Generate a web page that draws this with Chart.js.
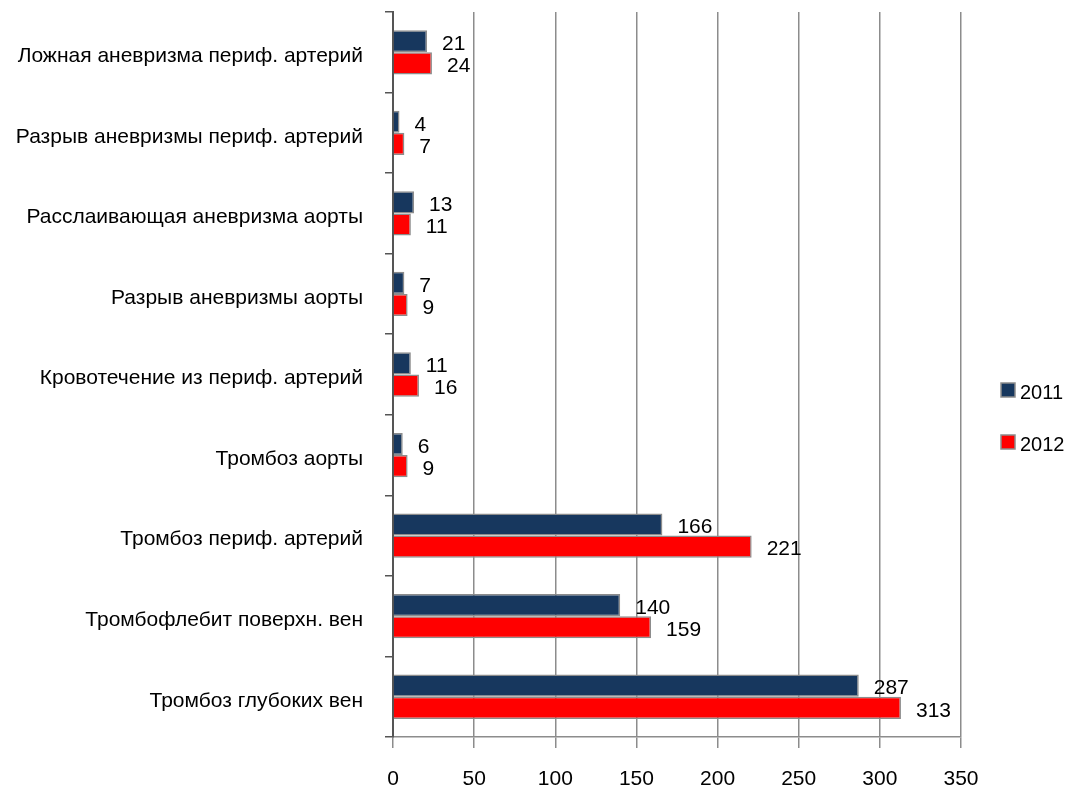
<!DOCTYPE html>
<html>
<head>
<meta charset="utf-8">
<script src="https://cdn.jsdelivr.net/npm/chart.js@4/dist/chart.umd.min.js"></script>
<style>
  html, body { margin: 0; padding: 0; background: #fff; }
  #wrap { width: 1070px; height: 792px; position: relative; }
</style>
</head>
<body>
<div id="wrap"><canvas id="chart"></canvas></div>
<script>
const categories = [
  "Ложная аневризма периф. артерий",
  "Разрыв аневризмы периф. артерий",
  "Расслаивающая аневризма аорты",
  "Разрыв аневризмы аорты",
  "Кровотечение из периф. артерий",
  "Тромбоз аорты",
  "Тромбоз периф. артерий",
  "Тромбофлебит поверхн. вен",
  "Тромбоз глубоких вен"
];
const values2011 = [21, 4, 13, 7, 11, 6, 166, 140, 287];
const values2012 = [24, 7, 11, 9, 16, 9, 221, 159, 313];
const seriesNames = ["2011", "2012"];
const xTicks = [0, 50, 100, 150, 200, 250, 300, 350];

const FONT = "'Liberation Sans', Arial, sans-serif";

// value labels to the right of each bar
const valueLabels = {
  id: "valueLabels",
  afterDatasetsDraw(chart) {
    const ctx = chart.ctx;
    ctx.save();
    ctx.font = "21px " + FONT;
    ctx.fillStyle = "#000";
    ctx.textAlign = "left";
    ctx.textBaseline = "middle";
    chart.data.datasets.forEach((ds, i) => {
      chart.getDatasetMeta(i).data.forEach((bar, j) => {
        ctx.fillText(ds.data[j], bar.x + 15, bar.y + 3);
      });
    });
    ctx.restore();
  }
};

// legend drawn on the right side
const sideLegend = {
  id: "sideLegend",
  afterDraw(chart) {
    const ctx = chart.ctx;
    ctx.save();
    ctx.font = "20px " + FONT;
    ctx.textBaseline = "middle";
    chart.data.datasets.forEach((ds, i) => {
      const y = 390 + i * 52;
      ctx.fillStyle = ds.backgroundColor;
      ctx.fillRect(1001, y - 7, 14, 14);
      ctx.strokeStyle = "#8c8c8c";
      ctx.lineWidth = 1.5;
      ctx.strokeRect(1001, y - 7, 14, 14);
      ctx.fillStyle = "#000";
      ctx.fillText(seriesNames[i], 1020, y + 3);
    });
    ctx.restore();
  }
};

new Chart(document.getElementById("chart"), {
  type: "bar",
  data: {
    labels: categories,
    datasets: [
      {
        label: seriesNames[0],
        data: values2011,
        backgroundColor: "#17375e",
        borderColor: "#8c8c8c",
        borderWidth: 1.5,
        categoryPercentage: 0.55,
        barPercentage: 1.0
      },
      {
        label: seriesNames[1],
        data: values2012,
        backgroundColor: "#ff0000",
        borderColor: "#8c8c8c",
        borderWidth: 1.5,
        categoryPercentage: 0.55,
        barPercentage: 1.0
      }
    ]
  },
  options: {
    indexAxis: "y",
    responsive: true,
    maintainAspectRatio: false,
    animation: false,
    layout: { padding: { top: 12, right: 109, left: 0, bottom: 0 } },
    plugins: {
      legend: { display: false },
      tooltip: { enabled: false }
    },
    scales: {
      x: {
        min: 0,
        max: 350,
        afterBuildTicks: s => { s.ticks = xTicks.map(v => ({ value: v })); },
        afterFit: s => { s.height = 55; s.paddingRight = 0; },
        border: { display: true, color: "#8c8c8c", width: 1.5 },
        grid: { color: "#8c8c8c", lineWidth: 1.5, tickLength: 11, drawTicks: true },
        ticks: { color: "#000", font: { family: FONT, size: 21 }, padding: 19 }
      },
      y: {
        afterFit: s => { s.width = 393; s.paddingTop = 0; s.paddingBottom = 0; },
        border: { display: true, color: "#555", width: 2 },
        grid: { offset: true, drawOnChartArea: false, drawTicks: true, tickLength: 8, color: "#555", lineWidth: 1.5 },
        ticks: { color: "#000", font: { family: FONT, size: 21 }, padding: 22, labelOffset: 4 }
      }
    }
  },
  plugins: [valueLabels, sideLegend]
});
</script>
</body>
</html>
